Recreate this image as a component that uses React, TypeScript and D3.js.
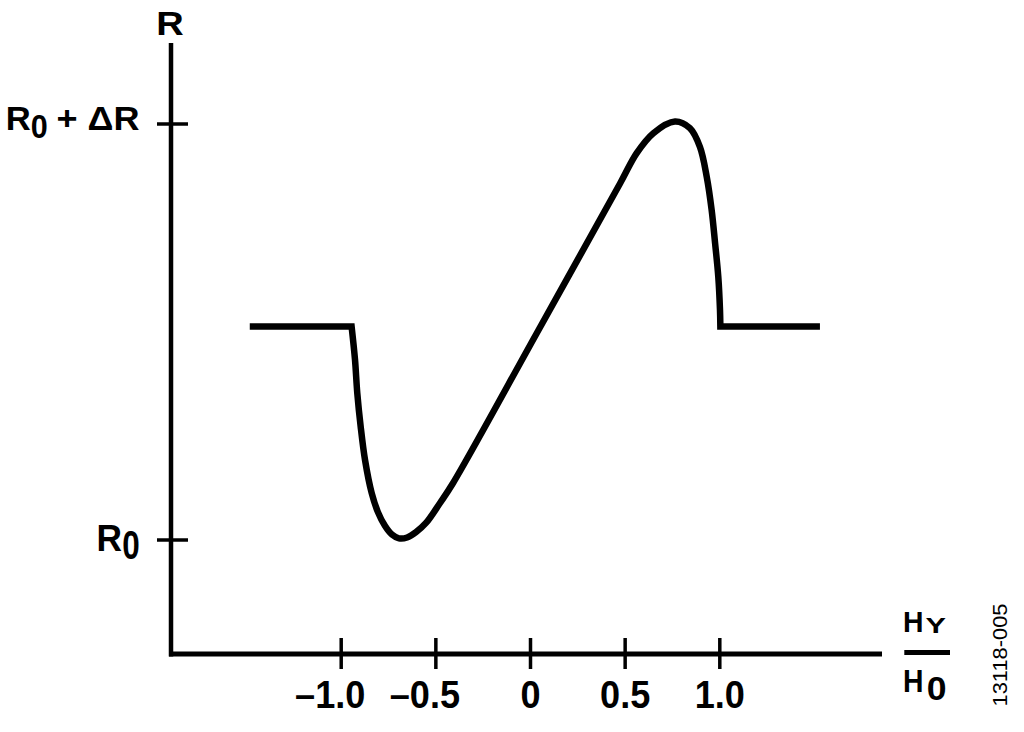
import React from "react";
import * as d3 from "d3";

// ---- data ----
const xTickValues = [-1.0, -0.5, 0, 0.5, 1.0];
const xTickLabels = ["–1.0", "–0.5", "0", "0.5", "1.0"];
const yTickValues = [0, 1];

// normalised field H_Y/H_0 and normalised resistance (0 = R0, 1 = R0 + ΔR)
const curveH = [
  -1.483, -0.945, -0.927, -0.915, -0.897, -0.874, -0.839, -0.806, -0.769, -0.732,
  -0.695, -0.652, -0.605, -0.552, -0.478, -0.409, 0.033, 0.473, 0.561, 0.649, 0.763,
  0.842, 0.895, 0.931, 0.957, 0.975, 0.992, 1.001, 1.003, 1.529,
];
const curveR = [
  0.513, 0.513, 0.433, 0.353, 0.272, 0.192, 0.113, 0.067, 0.034, 0.013,
  0.004, 0.006, 0.019, 0.041, 0.089, 0.137, 0.497, 0.857, 0.93, 0.978, 1.006,
  0.99, 0.945, 0.873, 0.793, 0.714, 0.633, 0.553, 0.513, 0.513,
];

const FONT = "'Liberation Sans', Arial, Helvetica, sans-serif";

export default function App() {
  const x = d3.scaleLinear().domain([0, 1]).range([530.5, 719.8]);
  const y = d3.scaleLinear().domain([0, 1]).range([540, 124]);

  const axisX0 = 171;
  const axisY = 654;
  const axisTop = 43;
  const axisRight = 882;

  const pts: [number, number][] = curveH.map((h, i) => [h, curveR[i]]);
  const n = pts.length;
  const mid = pts.slice(1, n - 1);
  const midLine = d3
    .line<[number, number]>()
    .x((d) => x(d[0]))
    .y((d) => y(d[1]))
    .curve(d3.curveCatmullRom.alpha(0.5))(mid) as string;
  const pathD =
    `M${x(pts[0][0])},${y(pts[0][1])}` +
    "L" +
    midLine.slice(1) +
    `L${x(pts[n - 1][0])},${y(pts[n - 1][1])}`;

  const bold = { fontWeight: "bold" as const };
  const fit = { lengthAdjust: "spacingAndGlyphs" as const };

  return (
    <svg
      width={1024}
      height={732}
      style={{ position: "absolute", left: 0, top: 0, background: "#fff" }}
      fontFamily={FONT}
    >
      <rect width={1024} height={732} fill="#fff" />
      {/* axes */}
      <line x1={axisX0} y1={axisTop} x2={axisX0} y2={axisY + 2.5} stroke="#000" strokeWidth={4.5} />
      <line x1={axisX0 - 2} y1={axisY} x2={axisRight} y2={axisY} stroke="#000" strokeWidth={5} />

      {/* x ticks */}
      {xTickValues.map((v, i) => (
        <g key={"xt" + i}>
          <line x1={x(v)} x2={x(v)} y1={638} y2={669} stroke="#000" strokeWidth={3.5} />
          <g transform={`translate(${x(v) + (v < 0 ? -11 : 0)},708) scale(0.95,1)`}>
            <text x={0} y={0} textAnchor="middle" fontSize={38} {...bold}>
              {xTickLabels[i]}
            </text>
          </g>
        </g>
      ))}

      {/* y ticks */}
      {yTickValues.map((v, i) => (
        <line key={"yt" + i} x1={157} x2={188} y1={y(v)} y2={y(v)} stroke="#000" strokeWidth={3.5} />
      ))}

      {/* y label: R0 + ΔR */}
      <text x={5.8} y={130} fontSize={32.5} {...bold}>
        <tspan textLength={25} {...fit}>R</tspan>
        <tspan x={30.8} y={138.3} fontSize={33} textLength={17} {...fit}>0</tspan>
        <tspan x={56.5} y={130} textLength={83} {...fit}>+ ΔR</tspan>
      </text>

      {/* y label: R0 */}
      <text x={96.5} y={550.7} fontSize={36} {...bold}>
        <tspan textLength={25.5} {...fit}>R</tspan>
        <tspan x={122.2} y={559} fontSize={40} textLength={17.5} {...fit}>0</tspan>
      </text>

      {/* y axis title */}
      <text x={156.3} y={35} fontSize={32.5} textLength={27.5} {...fit} {...bold}>R</text>

      {/* x label: H_Y / H_0 */}
      <text x={903} y={631.7} fontSize={30} textLength={20.5} {...fit} {...bold}>H</text>
      <text x={925.5} y={633.3} fontSize={22} textLength={20.5} {...fit} {...bold}>Y</text>
      <line x1={904.3} x2={950} y1={652.5} y2={652.5} stroke="#000" strokeWidth={5} />
      <text x={903} y={691.7} fontSize={32} {...bold}>
        <tspan textLength={20.5} {...fit}>H</tspan>
        <tspan x={926.8} y={699.5} fontSize={33.5} textLength={19.8} {...fit}>0</tspan>
      </text>

      {/* figure id */}
      <text
        transform="translate(1006.5,655) rotate(-90)"
        textAnchor="middle"
        fontSize={19.5}
        textLength={103}
        lengthAdjust="spacingAndGlyphs"
      >
        13118-005
      </text>

      {/* curve */}
      <path d={pathD} fill="none" stroke="#000" strokeWidth={6.5} strokeLinejoin="miter" strokeLinecap="butt" />
    </svg>
  );
}
